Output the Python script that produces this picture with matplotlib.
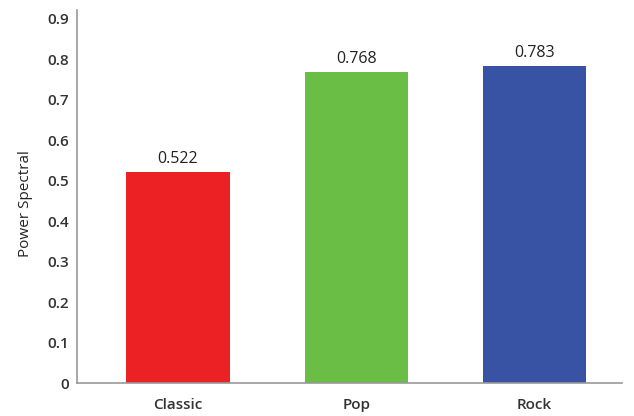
import matplotlib
matplotlib.use("Agg")
import matplotlib.pyplot as plt

categories = ["Classic", "Pop", "Rock"]
values = [0.522, 0.768, 0.783]
colors = ["#EC2124", "#6ABD45", "#3853A4"]
yticks = [0, 0.1, 0.2, 0.3, 0.4, 0.5, 0.6, 0.7, 0.8, 0.9]

plt.rcParams['font.family'] = ['Open Sans', 'DejaVu Sans']

fig = plt.figure(figsize=(6.34, 4.16), dpi=100)
ax = fig.add_axes([0.1215, 0.0793, 0.8595, 0.897])

x = range(len(categories))
bars = ax.bar(x, values, width=0.58, color=colors, zorder=2)
for xi, v in zip(x, values):
    ax.text(xi, v + 0.012, f"{v:.3f}", ha="center", va="bottom", fontsize=11.5,
            color="#222222", fontweight="medium")

ax.set_xlim(-0.566, 2.49)
ax.set_ylim(0, 0.922)
ax.set_yticks(yticks)
ax.set_yticklabels(["0" if t == 0 else f"{t:.1f}" for t in yticks])
ax.set_xticks(list(x))
ax.set_xticklabels(categories)
ax.tick_params(axis="both", length=0, labelsize=11, labelcolor="#333333")
ax.tick_params(axis="x", pad=11)
ax.tick_params(axis="y", pad=6)
for lbl in ax.get_xticklabels() + ax.get_yticklabels():
    lbl.set_fontweight("semibold")
ax.set_ylabel("Power Spectral", fontsize=11, color="#222222")
ax.yaxis.set_label_coords(-0.08, 0.48)

for s in ["top", "right"]:
    ax.spines[s].set_visible(False)
for s in ["left", "bottom"]:
    ax.spines[s].set_color("#999999")
    ax.spines[s].set_linewidth(1.2)

fig.savefig("out.png", dpi=100)
